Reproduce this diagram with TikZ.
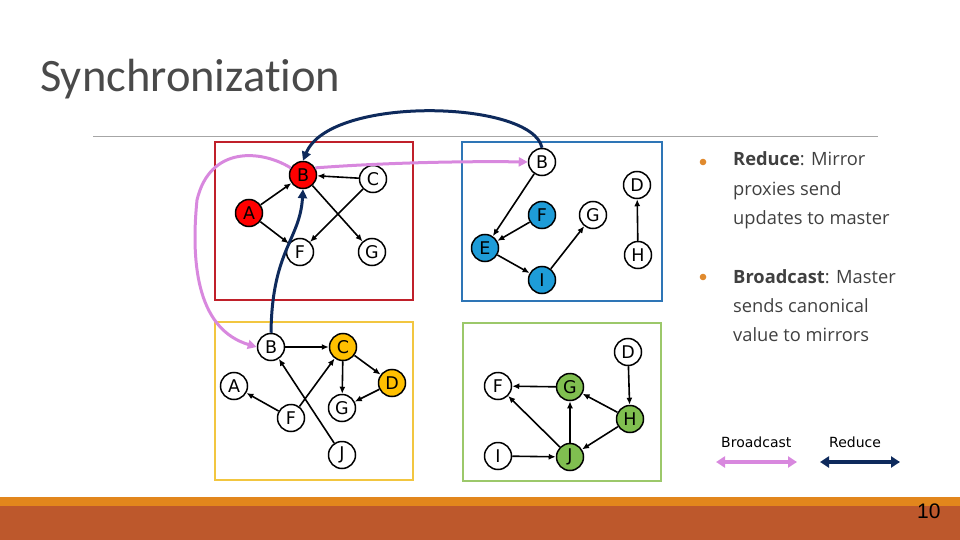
\documentclass[tikz,border=0pt]{standalone}
\usepackage{fontspec}
\setmainfont{DejaVu Sans}
\newfontfamily\titlefont[Ligatures=NoCommon]{Carlito}
\newfontfamily\bodyfont{Open Sans}
\newfontfamily\numfont{Liberation Sans}
\usetikzlibrary{arrows.meta}
\definecolor{boxred}{HTML}{C0202A}
\definecolor{boxblue}{HTML}{2E75B6}
\definecolor{boxyellow}{HTML}{F2C640}
\definecolor{boxgreen}{HTML}{9CC86A}
\definecolor{fillred}{HTML}{FF0000}
\definecolor{fillblue}{HTML}{1E9CD8}
\definecolor{fillorange}{HTML}{FFC000}
\definecolor{fillgreen}{HTML}{80BF50}
\definecolor{pinkline}{HTML}{D888DE}
\definecolor{navyline}{HTML}{0E2A5C}
\definecolor{txtgray}{HTML}{404040}
\definecolor{titlegray}{HTML}{4A4A4A}
\definecolor{barorange}{HTML}{E2861C}
\definecolor{barrust}{HTML}{BD582C}
\definecolor{bulletc}{HTML}{E08A2E}
\tikzset{
  vtx/.style={circle, draw=black, line width=1.5pt, minimum size=27pt, inner sep=0pt, fill=white,
    font=\fontsize{17.5}{17.5}\selectfont},
  edge/.style={-{Latex[length=7pt,width=6pt]}, line width=1.6pt},
  part/.style={line width=2pt},
  bcast/.style={draw=pinkline, line width=3pt, -{Triangle[length=9pt,width=9pt]}},
  reduce/.style={draw=navyline, line width=3pt, -{Triangle[length=9pt,width=9pt]}},
  bodytxt/.style={anchor=base west, text=txtgray, font=\bodyfont\fontsize{18.3}{18.3}\selectfont, inner sep=0pt},
}
\begin{document}
\begin{tikzpicture}[x=1pt,y=-1pt]
\path[use as bounding box] (0,0) rectangle (960,540);
% bottom bar
\fill[barorange] (0,497) rectangle (960,506);
\fill[barrust] (0,506) rectangle (960,540);
\node[anchor=base west, inner sep=0pt, font=\numfont\fontsize{21}{21}\selectfont] (pnum) at (917,518) {10};
% title and rule
\node[anchor=base west, inner sep=0pt, text=titlegray, font=\titlefont\fontsize{46.5}{46.5}\selectfont] (title) at (40,92) {Synchronization};
\draw[gray!70, line width=0.8pt] (93,136) -- (878,136);
% partition boxes
\draw[part, boxred] (215,142) rectangle (413,300);
\draw[part, boxblue] (462,142) rectangle (662,301);
\draw[part, boxyellow] (215,322) rectangle (413,480);
\draw[part, boxgreen] (463,323) rectangle (661,481);
% red partition
\node[vtx, fill=fillred] (rB) at (303,175) {B};
\node[vtx] (rC) at (373,179) {C};
\node[vtx, fill=fillred] (rA) at (249,213) {A};
\node[vtx] (rF) at (300,252) {F};
\node[vtx] (rG) at (372,252) {G};
\draw[edge] (rA) -- (rB);
\draw[edge] (rA) -- (rF);
\draw[edge] (rC) -- (rB);
\draw[edge] (rC) -- (rF);
\draw[edge] (rB) -- (rG);
% blue partition
\node[vtx] (bB) at (542,162) {B};
\node[vtx] (bD) at (637,185) {D};
\node[vtx, fill=fillblue] (bF) at (542,215) {F};
\node[vtx] (bG) at (593,215) {G};
\node[vtx, fill=fillblue] (bE) at (485,248) {E};
\node[vtx] (bH) at (638,255) {H};
\node[vtx, fill=fillblue] (bI) at (542,280) {I};
\draw[edge] (bB) -- (bE);
\draw[edge] (bF) -- (bE);
\draw[edge] (bE) -- (bI);
\draw[edge] (bI) -- (bG);
\draw[edge] (bH) -- (bD);
% yellow partition
\node[vtx] (yB) at (271,347) {B};
\node[vtx, fill=fillorange] (yC) at (343,347) {C};
\node[vtx] (yA) at (234,386) {A};
\node[vtx, fill=fillorange] (yD) at (392,383) {D};
\node[vtx] (yG) at (342,408) {G};
\node[vtx] (yF) at (291,418) {F};
\node[vtx] (yJ) at (342,455) {J};
\draw[edge] (yB) -- (yC);
\draw[edge] (yF) -- (yA);
\draw[edge] (yF) -- (yC);
\draw[edge] (yJ) -- (yB);
\draw[edge] (yC) -- (yG);
\draw[edge] (yC) -- (yD);
\draw[edge] (yD) -- (yG);
% green partition
\node[vtx] (gD) at (628,352) {D};
\node[vtx] (gF) at (498,386) {F};
\node[vtx, fill=fillgreen] (gG) at (570,387) {G};
\node[vtx, fill=fillgreen] (gH) at (630,419) {H};
\node[vtx] (gI) at (498,456) {I};
\node[vtx, fill=fillgreen] (gJ) at (570,457) {J};
\draw[edge] (gG) -- (gF);
\draw[edge] (gJ) -- (gF);
\draw[edge] (gJ) -- (gG);
\draw[edge] (gH) -- (gG);
\draw[edge] (gH) -- (gJ);
\draw[edge] (gD) -- (gH);
\draw[edge] (gI) -- (gJ);
% synchronization curves
\draw[bcast] (rB.150) .. controls (262,150) and (210,145) .. (197,200) .. controls (190,270) and (200,330) .. (yB.west);
\draw[bcast] (rB.30) .. controls (380,163) and (460,161) .. (bB.west);
\draw[reduce] (bB.north) .. controls (532,100) and (330,95) .. (rB.north);
\draw[reduce] (yB.north) .. controls (272,250) and (300,240) .. (rB.south);
% bullets
\fill[bulletc] (703,162) circle (3.3);
\fill[bulletc] (703,277) circle (3.3);
\node[bodytxt] (t1) at (733,166) {\textbf{Reduce}: Mirror};
\node[bodytxt] (t2) at (733,195) {proxies send};
\node[bodytxt] (t3) at (733,224) {updates to master};
\node[bodytxt] (t4) at (733,283) {\textbf{Broadcast}: Master};
\node[bodytxt] (t5) at (733,312) {sends canonical};
\node[bodytxt] (t6) at (733,341) {value to mirrors};
% legend
\node[anchor=base west, inner sep=0pt, font=\fontsize{14}{14}\selectfont] (lb) at (721,447) {Broadcast};
\node[anchor=base west, inner sep=0pt, font=\fontsize{14}{14}\selectfont] (lr) at (829,447) {Reduce};
\coordinate (lb1) at (716,462);
\coordinate (lb2) at (797,462);
\coordinate (lr1) at (820,462);
\coordinate (lr2) at (900,462);
\draw[draw=pinkline, line width=4pt, {Triangle[length=9pt,width=11pt]}-{Triangle[length=9pt,width=11pt]}] (lb1) -- (lb2);
\draw[draw=navyline, line width=4pt, {Triangle[length=9pt,width=11pt]}-{Triangle[length=9pt,width=11pt]}] (lr1) -- (lr2);
\end{tikzpicture}
\end{document}
